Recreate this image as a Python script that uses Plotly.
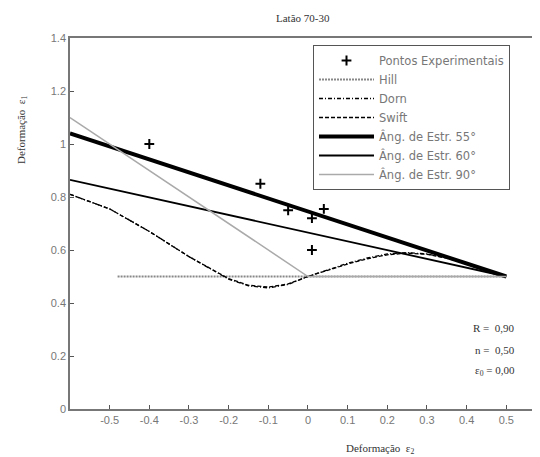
import plotly.graph_objects as go

# ---- data ----
exp_x = [-0.40, -0.12, -0.05, 0.01, 0.04, 0.01]
exp_y = [1.00, 0.85, 0.75, 0.72, 0.755, 0.60]

hill_x = [-0.48, 0.50]
hill_y = [0.50, 0.50]

curve_x = [-0.6, -0.5, -0.4, -0.3, -0.2, -0.15, -0.1, -0.05, 0.0, 0.05, 0.1, 0.15, 0.2, 0.25, 0.3, 0.35, 0.4, 0.45, 0.5]
dorn_y = [0.81, 0.755, 0.67, 0.575, 0.49, 0.465, 0.457, 0.47, 0.50, 0.525, 0.55, 0.57, 0.585, 0.59, 0.585, 0.57, 0.55, 0.525, 0.50]
swift_y = [0.81, 0.755, 0.67, 0.575, 0.492, 0.467, 0.46, 0.472, 0.50, 0.523, 0.547, 0.567, 0.582, 0.588, 0.584, 0.569, 0.549, 0.525, 0.50]

a55_x = [-0.6, 0.5]
a55_y = [1.04, 0.50]
a60_x = [-0.6, 0.5]
a60_y = [0.865, 0.50]
a90_x = [-0.6, 0.0, 0.5]
a90_y = [1.10, 0.50, 0.50]

x_ticks = [-0.5, -0.4, -0.3, -0.2, -0.1, 0, 0.1, 0.2, 0.3, 0.4, 0.5]
x_tick_labels = ["-0.5", "-0.4", "-0.3", "-0.2", "-0.1", "0", "0.1", "0.2", "0.3", "0.4", "0.5"]
y_ticks = [0, 0.2, 0.4, 0.6, 0.8, 1.0, 1.2, 1.4]
y_tick_labels = ["0", "0.2", "0.4", "0.6", "0.8", "1", "1.2", "1.4"]

# ---- layout geometry (page has an 8px body margin) ----
OFF = 8
W, H = 540 - OFF, 457 - OFF
L, T = 70 - OFF, 38 - OFF
R = W - (538 - OFF)
B = H - (409 - OFF)
pw, ph = W - L - R, H - T - B

def px(x):  # page pixel -> paper
    return (x - OFF - L) / pw

def py(y):
    return (H - B - (y - OFF)) / ph

fig = go.Figure()
fig.add_trace(go.Scatter(x=exp_x, y=exp_y, mode="markers", name="Pontos Experimentais",
                         marker=dict(symbol="cross-thin", size=7, color="black",
                                     line=dict(width=2, color="black"))))
fig.add_trace(go.Scatter(x=hill_x, y=hill_y, mode="lines", name="Hill",
                         line=dict(color="#888888", width=2, dash="2px,1px")))
fig.add_trace(go.Scatter(x=curve_x, y=dorn_y, mode="lines", name="Dorn",
                         line=dict(color="black", width=1.3, dash="4px,2px,1px,2px")))
fig.add_trace(go.Scatter(x=curve_x, y=swift_y, mode="lines", name="Swift",
                         line=dict(color="black", width=1.3, dash="4px,2px")))
fig.add_trace(go.Scatter(x=a55_x, y=a55_y, mode="lines", name="Âng. de Estr. 55°",
                         line=dict(color="black", width=4)))
fig.add_trace(go.Scatter(x=a60_x, y=a60_y, mode="lines", name="Âng. de Estr. 60°",
                         line=dict(color="black", width=1.8)))
fig.add_trace(go.Scatter(x=a90_x, y=a90_y, mode="lines", name="Âng. de Estr. 90°",
                         line=dict(color="#aaaaaa", width=1.5)))

axis_common = dict(showgrid=False, zeroline=False, showline=True, linecolor="#777777",
                   linewidth=1.5, ticks="inside", ticklen=4, tickcolor="#555555",
                   tickfont=dict(family="Liberation Sans, Arial", size=11, color="#777777"))

fig.update_xaxes(range=[-0.6, 0.58], tickvals=x_ticks, ticktext=x_tick_labels,
                 mirror=True, **axis_common)
fig.update_yaxes(range=[0, 1.4], tickvals=y_ticks, ticktext=y_tick_labels,
                 mirror=False, **axis_common)

serif = "Liberation Serif, Times New Roman, serif"
tf = dict(family=serif, size=11, color="#333333")
annotations = [
    dict(text="Latão 70-30", x=px(303), y=py(18), font=tf),
    dict(text="Deformação  ε<sub>2</sub>", x=px(380), y=py(449), font=tf),
    dict(text="Deformação  ε<sub>1</sub>", x=px(22), y=py(130), textangle=-90, font=tf),
    dict(text="R =  0,90", x=px(517), y=py(328), xanchor="right", font=tf),
    dict(text="n =  0,50", x=px(517), y=py(350), xanchor="right", font=tf),
    dict(text="ε<sub>0</sub> = 0,00", x=px(517), y=py(371), xanchor="right", font=tf),
]
for a in annotations:
    a.update(xref="paper", yref="paper", showarrow=False)
    a.setdefault("xanchor", "center")
    a.setdefault("yanchor", "middle")

fig.update_layout(
    width=W, height=H,
    margin=dict(l=L, r=R, t=T, b=B),
    plot_bgcolor="white", paper_bgcolor="white",
    annotations=annotations,
    legend=dict(x=px(313), y=py(45), xanchor="left", yanchor="top",
                bgcolor="white", bordercolor="#555555", borderwidth=1,
                font=dict(family="DejaVu Sans", size=11.5, color="#777777"),
                tracegroupgap=0, itemwidth=55),
    showlegend=True,
)

fig.write_html("out.html")
